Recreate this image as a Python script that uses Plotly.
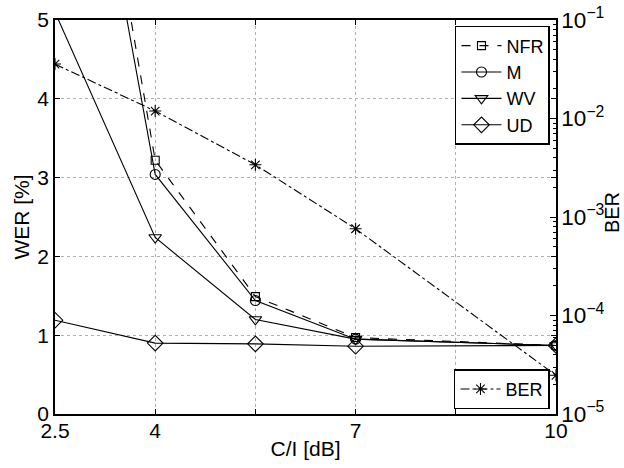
import plotly.graph_objects as go

ci_db = [2.5, 4, 5.5, 7, 10]
wer_nfr = [10.6, 3.22, 1.49, 0.97, 0.87]
wer_m = [10.0, 3.04, 1.44, 0.95, 0.87]
wer_wv = [5.1, 2.24, 1.20, 0.95, 0.87]
wer_ud = [1.19, 0.90, 0.89, 0.86, 0.87]
ber = [3.57e-2, 1.19e-2, 3.39e-3, 7.6e-4, 2.47e-5]

x_tickvals = [2.5, 4, 5.5, 7, 8.5, 10]
x_ticktext = ["2.5", "4", "", "7", "", "10"]

FONT = "Liberation Sans, Arial, sans-serif"
LW = 1.1
FS = 21

fig = go.Figure()

def add(name, y, symbol, size, dash, axis="y", legend="legend"):
    fig.add_trace(go.Scatter(
        x=ci_db, y=y, name=name, mode="lines+markers", yaxis=axis, legend=legend,
        line=dict(color="black", width=LW, dash=dash),
        marker=dict(symbol=symbol, size=size, color="black", line=dict(width=1.1, color="black")),
    ))

add("NFR", wer_nfr, "square-open", 8, "dash")
add("M", wer_m, "circle-open", 10, "solid")
add("WV", wer_wv, "triangle-down-open", 11, "solid")
add("UD", wer_ud, "diamond-open", 12, "solid")
add("BER", ber, "asterisk-open", 10, "dashdot", axis="y2", legend="legend2")

fig.update_layout(
    width=624, height=468,
    margin=dict(l=55, r=68, t=20, b=54),
    paper_bgcolor="white", plot_bgcolor="white",
    font=dict(family=FONT, size=FS, color="black"),
    xaxis=dict(
        range=[2.5, 10], tickvals=x_tickvals, ticktext=x_ticktext, automargin=False,
        ticks="inside", ticklen=5, tickcolor="black", mirror="ticks",
        showline=True, linecolor="black", linewidth=1.5,
        showgrid=True, gridcolor="#b0b0b0", griddash="dot", gridwidth=1,
        zeroline=False, ticklabelstandoff=-3,
        title=dict(text="C/I [dB]", font=dict(size=FS), standoff=0),
        tickfont=dict(size=FS),
    ),
    yaxis=dict(
        range=[0, 5], tickvals=[0, 1, 2, 3, 4, 5], automargin=False,
        ticks="inside", ticklen=5, tickcolor="black", mirror="ticks",
        showline=True, linecolor="black", linewidth=1.5,
        showgrid=True, gridcolor="#b0b0b0", griddash="dot", gridwidth=1,
        zeroline=False,
        title=dict(text="WER [%]", font=dict(size=FS), standoff=2),
        tickfont=dict(size=FS),
    ),
    yaxis2=dict(
        type="log", range=[-5, -1], dtick=1, exponentformat="power", automargin=False,
        overlaying="y", side="right", anchor="x",
        ticks="inside", ticklen=6, tickcolor="black",
        showline=True, linecolor="black", linewidth=1.5,
        showgrid=False, zeroline=False,
        minor=dict(ticks="inside", ticklen=3, tickcolor="black", dtick="D1", showgrid=False),
        tickfont=dict(size=18),
    ),
    annotations=[dict(
        text="BER", textangle=-90, showarrow=False,
        xref="paper", yref="paper", x=1 + (612 - 556) / 501, y=0.51,
        xanchor="center", yanchor="middle", font=dict(size=20),
    )],
    legend=dict(
        x=0.988, y=0.985, xanchor="right", yanchor="top",
        bgcolor="white", bordercolor="black", borderwidth=1.5,
        font=dict(size=18), tracegroupgap=0, itemwidth=40,
    ),
    legend2=dict(
        x=0.988, y=0.012, xanchor="right", yanchor="bottom",
        bgcolor="white", bordercolor="black", borderwidth=1.5,
        font=dict(size=18), itemwidth=40,
    ),
    showlegend=True,
)

fig.write_html("out.html")
